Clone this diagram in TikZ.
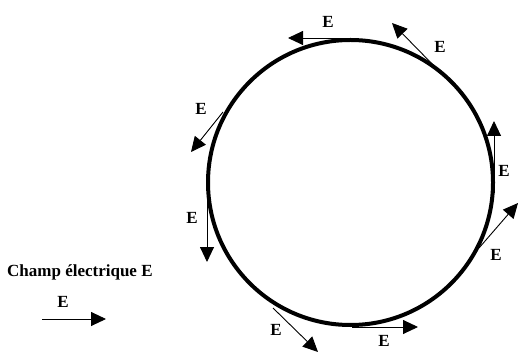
\documentclass[tikz,border=0pt]{standalone}
\usepackage{fontspec}
\setmainfont{Liberation Serif}
\usetikzlibrary{arrows.meta}
\tikzset{
  vec/.style={line width=0.9pt,-{Triangle[length=15pt,width=14pt]}},
  lab/.style={font=\fontsize{17}{19}\selectfont\bfseries,inner sep=0pt},
  ring/.style={line width=4pt}
}
\begin{document}
\begin{tikzpicture}[x=1pt,y=-1pt]
\useasboundingbox (0,0) rectangle (518,352);
\node[ring,draw,circle,minimum size=285pt,inner sep=0pt] (ring) at (350.5,182.5) {};
% tangent vectors
\coordinate (a1) at (357,38);  \coordinate (b1) at (288,38);
\coordinate (a2) at (440,72);  \coordinate (b2) at (392,23);
\coordinate (a3) at (223,112); \coordinate (b3) at (191,152);
\coordinate (a4) at (494,193); \coordinate (b4) at (494,121);
\coordinate (a5) at (207,183); \coordinate (b5) at (207,262);
\coordinate (a6) at (479,248); \coordinate (b6) at (518,203);
\coordinate (a7) at (273,308); \coordinate (b7) at (318,352);
\coordinate (a8) at (352,327); \coordinate (b8) at (418,327);
\foreach \i in {1,...,8} {\draw[vec] (a\i) -- (b\i);}
\node[lab] (e1) at (328,22) {E};
\node[lab] (e2) at (440,47) {E};
\node[lab] (e3) at (201,109) {E};
\node[lab] (e4) at (504,171) {E};
\node[lab] (e5) at (192,218) {E};
\node[lab] (e6) at (496,255) {E};
\node[lab] (e7) at (276,330) {E};
\node[lab] (e8) at (384,341) {E};
% legend
\node[lab,anchor=west] (title) at (7,272) {Champ électrique E};
\node[lab] (le) at (63,302) {E};
\coordinate (la) at (42,319);
\coordinate (lb) at (106,319);
\draw[vec] (la) -- (lb);
\end{tikzpicture}
\end{document}
